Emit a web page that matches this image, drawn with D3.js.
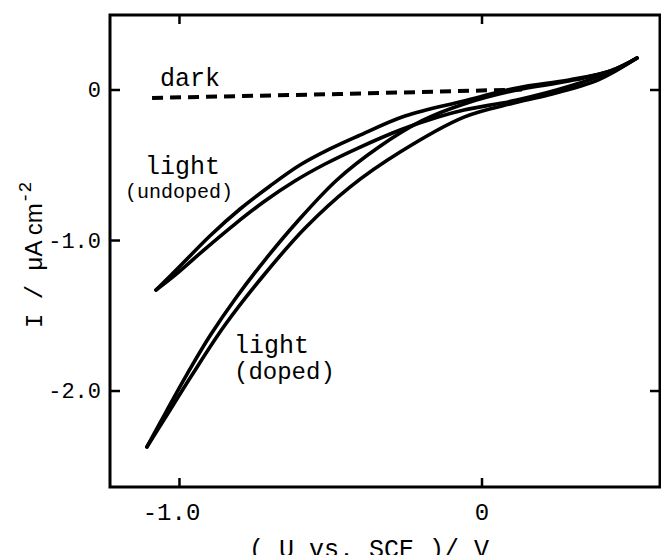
<!DOCTYPE html>
<html>
<head>
<meta charset="utf-8">
<script src="https://cdn.jsdelivr.net/npm/d3@7"></script>
<style>
  body { margin: 0; background: #fff; }
  svg { display: block; }
  .tick line { stroke: #000; stroke-width: 2.5; }
  .tick text { font-family: "Liberation Mono", "DejaVu Sans Mono", monospace; fill: #000; }
</style>
</head>
<body>
<div id="chart"></div>
<script>
// tick values and labels
const xTicks = [-1, 0];
const xTickLabels = ["-1.0", "0"];
const yTicks = [0, -1, -2];
const yTickLabels = ["0", "-1.0", "-2.0"];
const yTicksRight = [0, -2];

// dark current (dashed)
const darkCurve = [[-1.089, -0.056], [-0.47, -0.03], [0.134, 0.0]];

// light, undoped: upper and lower branch of the loop
const undopedUpper = [[-1.076, -1.332], [-0.993, -1.166], [-0.898, -0.973], [-0.798, -0.794],
  [-0.699, -0.641], [-0.600, -0.502], [-0.501, -0.395], [-0.408, -0.309], [-0.253, -0.176],
  [-0.058, -0.076], [0.117, 0.01], [0.289, 0.063], [0.428, 0.125], [0.514, 0.209]];
const undopedLower = [[-1.076, -1.332], [-1.013, -1.233], [-0.914, -1.06], [-0.815, -0.894],
  [-0.716, -0.741], [-0.617, -0.608], [-0.517, -0.495], [-0.408, -0.389], [-0.269, -0.269],
  [-0.144, -0.183], [-0.058, -0.136], [0.117, -0.07], [0.293, 0.023], [0.448, 0.136],
  [0.514, 0.209]];

// light, doped: left and right branch of the loop
const dopedUpper = [[-1.106, -2.375], [-1.043, -2.143], [-0.977, -1.904], [-0.898, -1.638],
  [-0.812, -1.385], [-0.716, -1.133], [-0.610, -0.88], [-0.478, -0.601], [-0.339, -0.382],
  [-0.198, -0.209], [-0.058, -0.096], [0.117, -0.003], [0.289, 0.056], [0.428, 0.125],
  [0.514, 0.209]];
const dopedLower = [[-1.106, -2.375], [-1.046, -2.183], [-0.957, -1.897], [-0.848, -1.565],
  [-0.722, -1.239], [-0.583, -0.92], [-0.435, -0.648], [-0.269, -0.415], [-0.058, -0.183],
  [0.107, -0.09], [0.22, -0.037], [0.388, 0.066], [0.514, 0.209]];

const W = 661, H = 555;
const mono = '"Liberation Mono", "DejaVu Sans Mono", monospace';

const svg = d3.select("#chart").append("svg")
  .attr("width", W).attr("height", H);

const x = d3.scaleLinear().domain([-1.228, 0.590]).range([110, 660]);
const y = d3.scaleLinear().domain([-2.641, 0.495]).range([487, 15]);

// frame
svg.append("rect")
  .attr("x", x.range()[0]).attr("y", y.range()[1])
  .attr("width", x.range()[1] - x.range()[0])
  .attr("height", y.range()[0] - y.range()[1])
  .attr("fill", "none").attr("stroke", "#000").attr("stroke-width", 3);

// axes with inward ticks
const xb = svg.append("g").attr("transform", "translate(0," + y.range()[0] + ")")
  .call(d3.axisBottom(x).tickValues(xTicks).tickSize(-9).tickPadding(16)
    .tickFormat((d, i) => xTickLabels[i]));
xb.selectAll("text").attr("font-size", 24).attr("dx", (d, i) => i == 0 ? -8 : 0);

svg.append("g").attr("transform", "translate(0," + y.range()[1] + ")")
  .call(d3.axisTop(x).tickValues(xTicks).tickSize(-9).tickFormat(""));

const yl = svg.append("g").attr("transform", "translate(" + x.range()[0] + ",0)")
  .call(d3.axisLeft(y).tickValues(yTicks).tickSize(-10).tickPadding(9)
    .tickFormat((d, i) => yTickLabels[i]));
yl.selectAll("text").attr("font-size", 22);

svg.append("g").attr("transform", "translate(" + x.range()[1] + ",0)")
  .call(d3.axisRight(y).tickValues(yTicksRight).tickSize(-10).tickFormat(""));

svg.selectAll(".domain").remove();

// curves
const line = d3.line()
  .x(d => x(d[0])).y(d => y(d[1]))
  .curve(d3.curveCatmullRom.alpha(0.5));

[undopedUpper, undopedLower, dopedUpper, dopedLower].forEach(function (s) {
  svg.append("path")
    .attr("d", line(s))
    .attr("fill", "none")
    .attr("stroke", "#000")
    .attr("stroke-width", 3.6)
    .attr("stroke-linecap", "round")
    .attr("stroke-linejoin", "round");
});

svg.append("path")
  .attr("d", d3.line().x(d => x(d[0])).y(d => y(d[1]))(darkCurve))
  .attr("fill", "none")
  .attr("stroke", "#000")
  .attr("stroke-width", 4)
  .attr("stroke-dasharray", "11,7");

// annotations
function label(tx, ty, str, size) {
  svg.append("text")
    .attr("x", tx).attr("y", ty)
    .attr("font-family", mono).attr("font-size", size)
    .attr("fill", "#000")
    .text(str);
}
label(160, 86, "dark", 25);
label(145, 174, "light", 25);
label(125, 198, "(undoped)", 20);
label(234, 353, "light", 25);
label(234, 379, "(doped)", 24);

// axis titles
svg.append("text")
  .attr("x", 369).attr("y", 557)
  .attr("text-anchor", "middle")
  .attr("font-family", mono).attr("font-size", 25)
  .attr("fill", "#000")
  .text("( U vs. SCE )/ V");

const yt = svg.append("text")
  .attr("transform", "translate(42,328) rotate(-90)")
  .attr("font-family", mono).attr("font-size", 24)
  .attr("fill", "#000");
yt.append("tspan").text("I / ");
yt.append("tspan").attr("font-family", '"Liberation Sans", Arial, sans-serif').text("\u03bcA cm");
yt.append("tspan").attr("font-size", 18).attr("dy", -11).text("-2");
</script>
</body>
</html>
